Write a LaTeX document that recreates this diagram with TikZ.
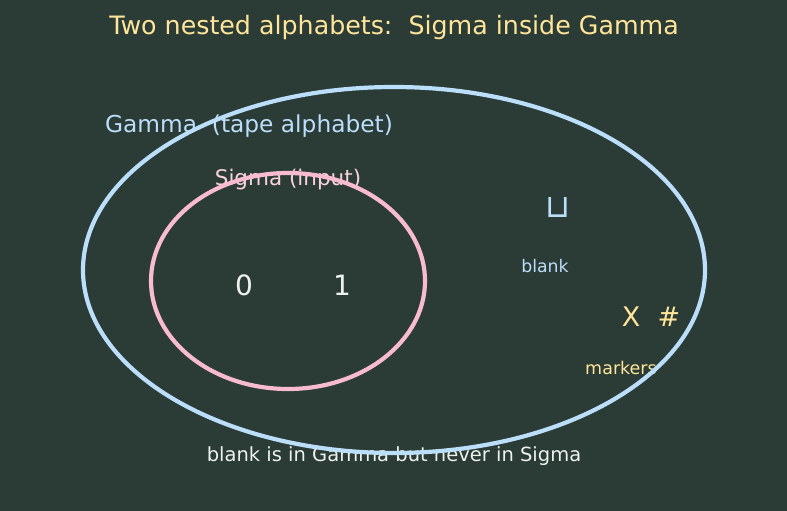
\documentclass[tikz,border=0pt]{standalone}
\usepackage{fontspec}
\setmainfont{DejaVu Sans}
\definecolor{bg}{HTML}{2B3B35}
\definecolor{gblue}{HTML}{BBDEFB}
\definecolor{spink}{HTML}{F8BBD0}
\definecolor{ytext}{HTML}{FFE59A}
\definecolor{wtext}{HTML}{EEF2EE}
\definecolor{ptext}{HTML}{F8D3DC}
\begin{document}
\begin{tikzpicture}[x=1pt,y=-1pt,
  lbl/.style={inner sep=0pt, anchor=center},
  ring/.style={line width=4.2pt}]
\fill[bg] (0,0) rectangle (787,511);
\useasboundingbox (0,0) rectangle (787,511);
\node[lbl, text=ytext, font=\fontsize{25.3}{30}\selectfont] (title) at (394,27.5) {Two nested alphabets:\ \ Sigma inside Gamma};
\node[lbl, text=gblue, font=\fontsize{23.3}{28}\selectfont] (glabel) at (249,126) {Gamma\ \ (tape alphabet)};
\node[lbl, text=ptext, font=\fontsize{21.5}{26}\selectfont] (slabel) at (288,180) {Sigma (input)};
\node[lbl, text=wtext, font=\fontsize{28}{33}\selectfont] (zero) at (244,285) {0};
\node[lbl, text=wtext, font=\fontsize{28}{33}\selectfont] (one) at (342,285) {1};
\node[lbl, text=gblue, font=\fontsize{32}{38}\selectfont] (blanksym) at (558,207) {⊔};
\node[lbl, text=gblue, font=\fontsize{17.3}{21}\selectfont] (blank) at (545,266) {blank};
\node[lbl, text=ytext, font=\fontsize{27}{32}\selectfont] (xm) at (631,317) {X};
\node[lbl, text=ytext, font=\fontsize{27}{32}\selectfont] (hm) at (669,317) {\#};
\node[lbl, text=ytext, font=\fontsize{17.5}{21}\selectfont] (markers) at (621,368) {markers};
\node[lbl, text=wtext, font=\fontsize{19.5}{23}\selectfont] (note) at (394,456) {blank is in Gamma but never in Sigma};
\draw[ring, gblue] (394,270) ellipse [x radius=311, y radius=183];
\draw[ring, spink] (288,281) ellipse [x radius=137, y radius=108];
\end{tikzpicture}
\end{document}
